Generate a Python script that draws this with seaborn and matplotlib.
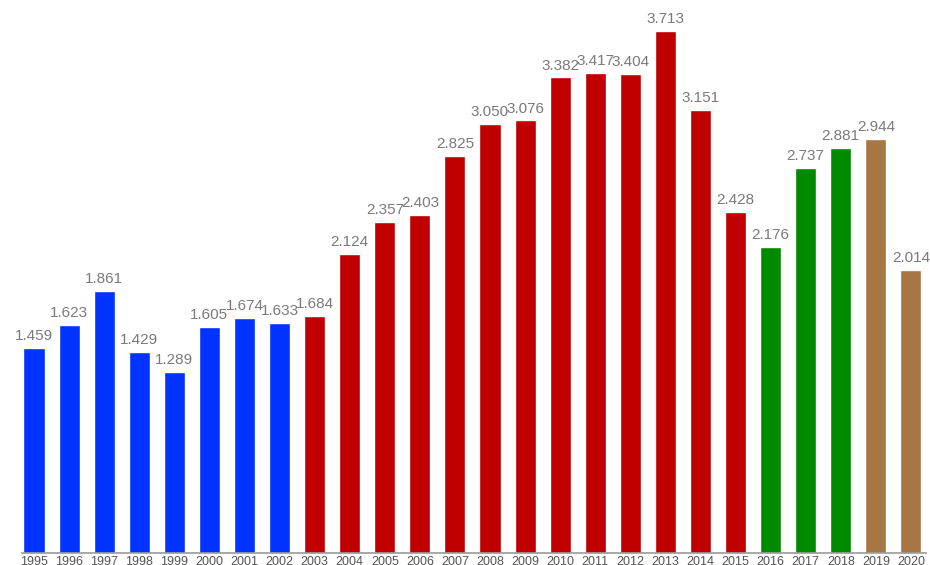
import matplotlib
matplotlib.use("Agg")
import matplotlib.pyplot as plt
import seaborn as sns
import pandas as pd

years = [str(y) for y in range(1995, 2021)]
values = [1.459, 1.623, 1.861, 1.429, 1.289, 1.605, 1.674, 1.633,
          1.684, 2.124, 2.357, 2.403, 2.825, 3.050, 3.076, 3.382, 3.417, 3.404, 3.713, 3.151, 2.428,
          2.176, 2.737, 2.881,
          2.944, 2.014]
groups = ["A"] * 8 + ["B"] * 13 + ["C"] * 3 + ["D"] * 2
palette = {"A": "#0033ff", "B": "#c00000", "C": "#008a00", "D": "#a87642"}

df = pd.DataFrame({"year": years, "value": values, "group": groups})

sns.set_style("white")
plt.rcParams['font.family'] = ['Liberation Sans', 'DejaVu Sans']

fig = plt.figure(figsize=(9.3, 5.65), dpi=100)
ax = fig.add_axes([22 / 930, 12 / 565, (926 - 22) / 930, 553 / 565])

sns.barplot(data=df, x="year", y="value", hue="group", palette=palette,
            dodge=False, width=0.6, legend=False, ax=ax, saturation=1)

for i, v in enumerate(values):
    ax.text(i, v + 0.035, f"{v:.3f}", ha="center", va="bottom",
            fontsize=11, color="#7a7a7a")

ax.set_xlim(-0.342, 25.43)
ax.set_ylim(0, 3.933)
ax.set_xlabel("")
ax.set_ylabel("")
ax.set_yticks([])
ax.tick_params(axis="x", length=0, pad=2, labelsize=9, labelcolor="#555555")
for s in ["top", "right", "left"]:
    ax.spines[s].set_visible(False)
ax.spines["bottom"].set_color("#999999")
ax.spines["bottom"].set_linewidth(1.2)

fig.savefig("out.png", dpi=100)
